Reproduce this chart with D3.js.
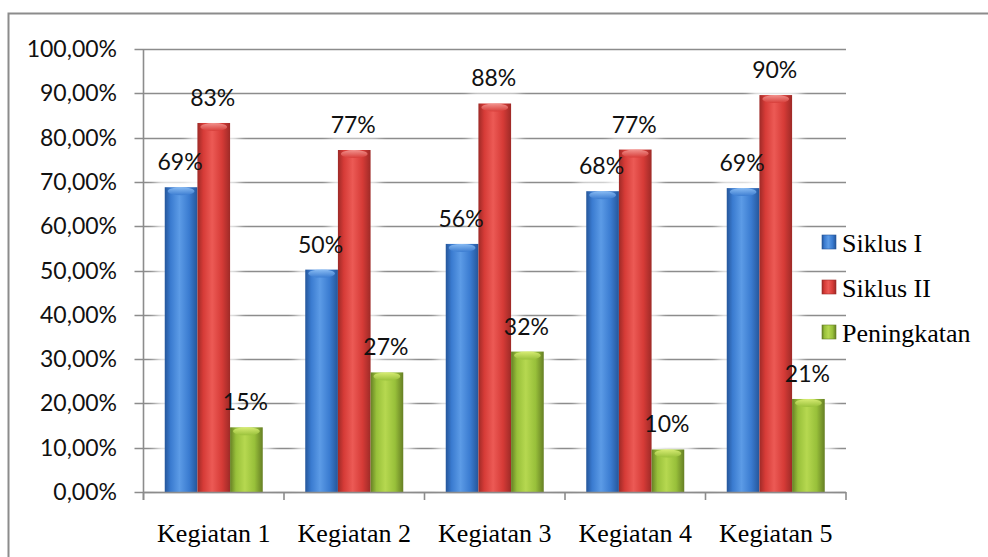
<!DOCTYPE html>
<html>
<head>
<meta charset="utf-8">
<script src="https://cdn.jsdelivr.net/npm/d3@7"></script>
<style>
  html, body { margin: 0; padding: 0; background: #fff; }
  svg { display: block; }
</style>
</head>
<body>
<svg id="chart" width="988" height="557"></svg>
<script>
// Chart data
const categories = ["Kegiatan 1", "Kegiatan 2", "Kegiatan 3", "Kegiatan 4", "Kegiatan 5"];
const seriesNames = ["Siklus I", "Siklus II", "Peningkatan"];
const siklus1 = [0.688, 0.502, 0.560, 0.679, 0.686];
const siklus2 = [0.833, 0.772, 0.877, 0.773, 0.896];
const peningkatan = [0.146, 0.270, 0.317, 0.096, 0.210];
const yTicks = [0, 0.1, 0.2, 0.3, 0.4, 0.5, 0.6, 0.7, 0.8, 0.9, 1.0];

const seriesValues = [siklus1, siklus2, peningkatan];
const palette = [
  { light: "#5c9be6", mid: "#3a7bd0", dark: "#25569a", cap: "#8fc0f5" },
  { light: "#ec5a55", mid: "#d63b37", dark: "#9e2a27", cap: "#f39a95" },
  { light: "#b6d850", mid: "#98c03a", dark: "#667f24", cap: "#dcef78" }
];

const svg = d3.select("#chart");
const W = 988, H = 557;
const plot = { left: 143.5, right: 846, top: 49, bottom: 492 };

// Outer frame
svg.append("rect")
  .attr("x", 8.5).attr("y", 13.5)
  .attr("width", W + 10).attr("height", H + 10)
  .attr("fill", "#fff")
  .attr("stroke", "#8c8c8c").attr("stroke-width", 2);

const x0 = d3.scaleBand().domain(categories).range([plot.left, plot.right]).paddingInner(0).paddingOuter(0);
const x1 = d3.scaleBand().domain(seriesNames).range([0, 98]);
const groupOffset = (x0.bandwidth() - 98) / 2;
const y = d3.scaleLinear().domain([0, 1]).range([plot.bottom, plot.top]);

const locale = d3.formatLocale({ decimal: ",", thousands: ".", grouping: [3], currency: ["", ""] });
const tickFmt = locale.format(".2%");
const labelFmt = d3.format(".0%");

const defs = svg.append("defs");
const glow = defs.append("filter").attr("id", "glow")
  .attr("x", "-50%").attr("y", "-50%").attr("width", "200%").attr("height", "200%");
glow.append("feGaussianBlur").attr("stdDeviation", 4);

palette.forEach((p, i) => {
  const g = defs.append("linearGradient").attr("id", "bar" + i)
    .attr("x1", "0%").attr("x2", "100%").attr("y1", "0%").attr("y2", "0%");
  g.append("stop").attr("offset", "0%").attr("stop-color", p.dark);
  g.append("stop").attr("offset", "18%").attr("stop-color", p.mid);
  g.append("stop").attr("offset", "45%").attr("stop-color", p.light);
  g.append("stop").attr("offset", "75%").attr("stop-color", p.mid);
  g.append("stop").attr("offset", "100%").attr("stop-color", p.dark);
  const c = defs.append("linearGradient").attr("id", "cap" + i)
    .attr("x1", "0%").attr("x2", "0%").attr("y1", "0%").attr("y2", "100%");
  c.append("stop").attr("offset", "0%").attr("stop-color", p.cap);
  c.append("stop").attr("offset", "100%").attr("stop-color", p.mid);
});

// Gridlines
svg.append("g").selectAll("line").data(yTicks).join("line")
  .attr("x1", plot.left - 9).attr("x2", plot.right)
  .attr("y1", d => Math.round(y(d)) + 0.5).attr("y2", d => Math.round(y(d)) + 0.5)
  .attr("stroke", "#8c8c8c").attr("stroke-width", 1.6);

// Soft white halo behind each bar
const cells = [];
categories.forEach((cat, ci) => {
  seriesNames.forEach((s, si) => {
    cells.push({ cat, s, si, v: seriesValues[si][ci] });
  });
});
svg.append("g").selectAll("rect").data(cells).join("rect")
  .attr("x", d => x0(d.cat) + groupOffset + x1(d.s) - 9)
  .attr("y", d => y(d.v) - 12)
  .attr("width", x1.bandwidth() + 18)
  .attr("height", d => plot.bottom - y(d.v) + 12)
  .attr("fill", "#fff").attr("opacity", 0.75)
  .attr("filter", "url(#glow)");

// Y axis line
svg.append("line")
  .attr("x1", plot.left).attr("x2", plot.left)
  .attr("y1", plot.top).attr("y2", plot.bottom + 8)
  .attr("stroke", "#8c8c8c").attr("stroke-width", 1.6);

// Bars
const bars = svg.append("g").selectAll("g").data(cells).join("g");
bars.append("rect")
  .attr("x", d => x0(d.cat) + groupOffset + x1(d.s))
  .attr("y", d => y(d.v))
  .attr("width", x1.bandwidth())
  .attr("height", d => plot.bottom - y(d.v))
  .attr("fill", d => `url(#bar${d.si})`);
bars.append("ellipse")
  .attr("cx", d => x0(d.cat) + groupOffset + x1(d.s) + x1.bandwidth() / 2)
  .attr("cy", d => y(d.v) + 4)
  .attr("rx", x1.bandwidth() / 2 - 3)
  .attr("ry", 4)
  .attr("fill", d => `url(#cap${d.si})`).attr("opacity", 0.9);

// X axis line and ticks
svg.append("line")
  .attr("x1", plot.left).attr("x2", plot.right)
  .attr("y1", plot.bottom + 0.5).attr("y2", plot.bottom + 0.5)
  .attr("stroke", "#8c8c8c").attr("stroke-width", 1.6);
const bounds = categories.map(c => x0(c)).concat([plot.right]);
svg.append("g").selectAll("line").data(bounds).join("line")
  .attr("x1", d => d).attr("x2", d => d)
  .attr("y1", plot.bottom).attr("y2", plot.bottom + 8)
  .attr("stroke", "#8c8c8c").attr("stroke-width", 1.6);

// Y tick labels
svg.append("g").selectAll("text").data(yTicks).join("text")
  .attr("x", 117).attr("y", d => y(d))
  .attr("dy", "0.35em")
  .attr("text-anchor", "end")
  .attr("font-family", "Lato, 'Open Sans', sans-serif")
  .attr("font-size", 23)
  .attr("fill", "#111")
  .text(d => tickFmt(d));

// Category labels
svg.append("g").selectAll("text").data(categories).join("text")
  .attr("x", d => x0(d) + x0.bandwidth() / 2)
  .attr("y", 542)
  .attr("text-anchor", "middle")
  .attr("font-family", "'Liberation Serif', 'Times New Roman', serif")
  .attr("font-size", 26)
  .attr("fill", "#000")
  .text(d => d);

// Value labels above bars
svg.append("g").selectAll("text").data(cells).join("text")
  .attr("x", d => x0(d.cat) + groupOffset + x1(d.s) + x1.bandwidth() / 2 - 1)
  .attr("y", d => y(d.v) - 17)
  .attr("text-anchor", "middle")
  .attr("font-family", "Lato, 'Open Sans', sans-serif")
  .attr("font-size", 23)
  .attr("fill", "#111")
  .text(d => labelFmt(d.v));

// Legend
const legend = svg.append("g").selectAll("g").data(seriesNames).join("g")
  .attr("transform", (d, i) => `translate(822, ${235 + i * 45})`);
legend.append("rect")
  .attr("width", 14).attr("height", 14)
  .attr("fill", (d, i) => `url(#bar${i})`)
  .attr("stroke", (d, i) => palette[i].dark).attr("stroke-width", 0.6);
legend.append("text")
  .attr("x", 20).attr("y", 17)
  .attr("font-family", "'Liberation Serif', 'Times New Roman', serif")
  .attr("font-size", 26)
  .attr("fill", "#000")
  .text(d => d);
</script>
</body>
</html>
